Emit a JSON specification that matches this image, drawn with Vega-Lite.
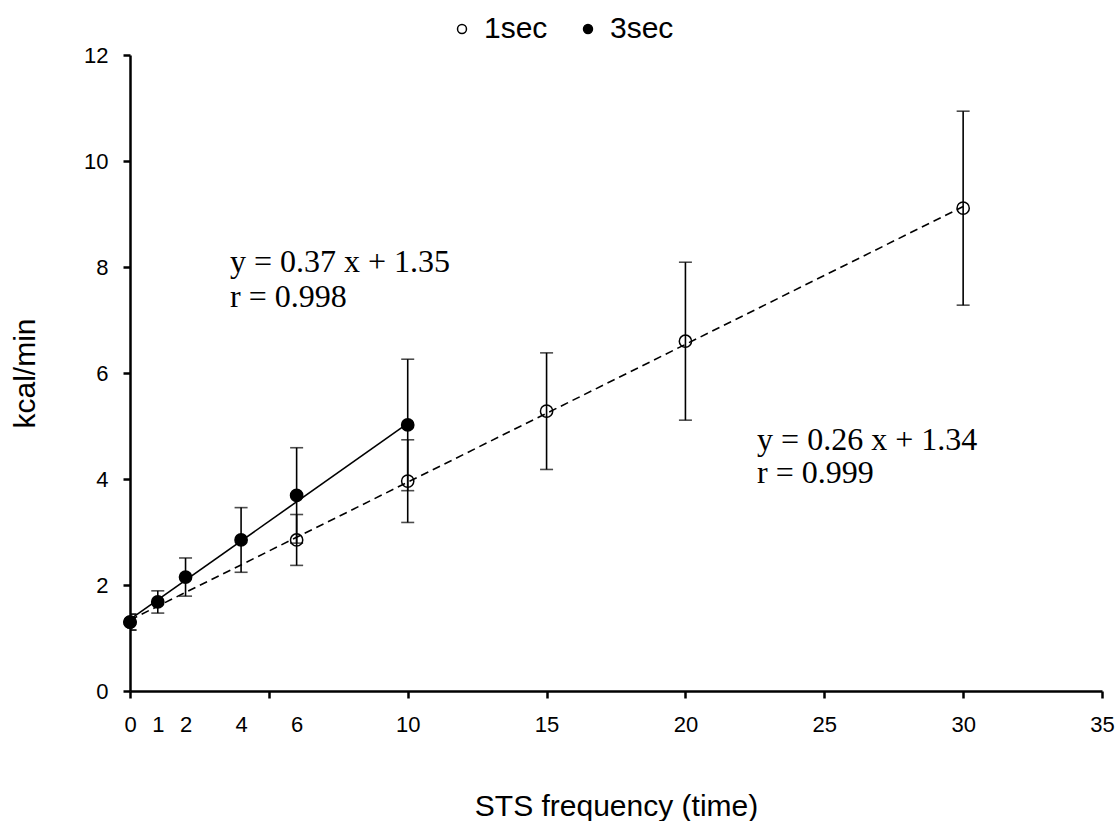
{
  "$schema": "https://vega.github.io/schema/vega-lite/v6.json",
  "width": 972,
  "height": 636,
  "autosize": {"type": "none"},
  "padding": {"left": 130, "top": 55, "right": 14, "bottom": 130},
  "background": "white",
  "config": {
    "view": {"stroke": null},
    "font": "Liberation Sans"
  },
  "datasets": {
    "pts": [
      {"series": "1sec", "x": 0, "y": 1.30, "lo": 1.15, "hi": 1.45},
      {"series": "1sec", "x": 6, "y": 2.85, "lo": 2.37, "hi": 3.33},
      {"series": "1sec", "x": 10, "y": 3.96, "lo": 3.18, "hi": 4.74},
      {"series": "1sec", "x": 15, "y": 5.28, "lo": 4.18, "hi": 6.38},
      {"series": "1sec", "x": 20, "y": 6.60, "lo": 5.11, "hi": 8.09},
      {"series": "1sec", "x": 30, "y": 9.11, "lo": 7.28, "hi": 10.94},
      {"series": "3sec", "x": 0, "y": 1.30, "lo": 1.15, "hi": 1.45},
      {"series": "3sec", "x": 1, "y": 1.68, "lo": 1.47, "hi": 1.89},
      {"series": "3sec", "x": 2, "y": 2.15, "lo": 1.79, "hi": 2.51},
      {"series": "3sec", "x": 4, "y": 2.85, "lo": 2.24, "hi": 3.46},
      {"series": "3sec", "x": 6, "y": 3.69, "lo": 2.79, "hi": 4.59},
      {"series": "3sec", "x": 10, "y": 5.02, "lo": 3.78, "hi": 6.26}
    ],
    "fit1": [
      {"series": "1sec", "x": 0, "y": 1.34},
      {"series": "1sec", "x": 30, "y": 9.14}
    ],
    "fit3": [
      {"series": "3sec", "x": 0, "y": 1.35},
      {"series": "3sec", "x": 10, "y": 5.05}
    ],
    "notes": [
      {"x": 3.6, "y": 8.09, "text": "y = 0.37 x + 1.35"},
      {"x": 3.6, "y": 7.43, "text": "r = 0.998"},
      {"x": 22.58, "y": 4.74, "text": "y = 0.26 x + 1.34"},
      {"x": 22.58, "y": 4.11, "text": "r = 0.999"}
    ]
  },
  "layer": [
    {
      "data": {"name": "pts"},
      "mark": {"type": "rule", "color": "black", "strokeWidth": 1.6, "clip": true},
      "encoding": {
        "x": {
          "field": "x", "type": "quantitative", "title": "STS frequency (time)",
          "scale": {"domain": [0, 35], "nice": false, "zero": false},
          "axis": {
            "values": [0, 1, 2, 4, 5, 6, 10, 15, 20, 25, 30, 35],
            "labelExpr": "datum.value == 5 ? '' : datum.label",
            "labelOverlap": false,
            "labelFlush": false,
            "labelPadding": 16,
            "labelFontSize": 22,
            "labelFont": "Liberation Sans",
            "labelColor": "black",
            "grid": false,
            "domainColor": "black",
            "domainWidth": 2.5,
            "tickColor": "black",
            "tickWidth": 2.5,
            "tickSize": 7,
            "titleFont": "Liberation Sans",
            "titleFontSize": 30,
            "titleFontWeight": "normal",
            "titleColor": "black",
            "titlePadding": 56,
            "tickOpacity": {"condition": {"test": "datum.value == 1 || datum.value == 2 || datum.value == 4 || datum.value == 6", "value": 0}, "value": 1}
          }
        },
        "y": {
          "field": "lo", "type": "quantitative", "title": "kcal/min",
          "scale": {"domain": [0, 12], "nice": false, "zero": true},
          "axis": {
            "values": [0, 2, 4, 6, 8, 10, 12],
            "labelPadding": 15,
            "labelFontSize": 22,
            "labelFont": "Liberation Sans",
            "labelColor": "black",
            "grid": false,
            "domainColor": "black",
            "domainWidth": 2.5,
            "tickColor": "black",
            "tickWidth": 2.5,
            "tickSize": 7,
            "titleFont": "Liberation Sans",
            "titleFontSize": 30,
            "titleFontWeight": "normal",
            "titleColor": "black",
            "titlePadding": 43
          }
        },
        "y2": {"field": "hi"}
      }
    },
    {
      "data": {"name": "pts"},
      "mark": {"type": "tick", "orient": "horizontal", "color": "black", "size": 13, "thickness": 1.6, "clip": true},
      "encoding": {
        "x": {"field": "x", "type": "quantitative", "title": "STS frequency (time)"},
        "y": {"field": "lo", "type": "quantitative", "title": "kcal/min"}
      }
    },
    {
      "data": {"name": "pts"},
      "mark": {"type": "tick", "orient": "horizontal", "color": "black", "size": 13, "thickness": 1.6, "clip": true},
      "encoding": {
        "x": {"field": "x", "type": "quantitative", "title": "STS frequency (time)"},
        "y": {"field": "hi", "type": "quantitative", "title": "kcal/min"}
      }
    },
    {
      "data": {"name": "fit1"},
      "mark": {"type": "line", "color": "black", "strokeWidth": 1.6, "strokeDash": [8, 5]},
      "encoding": {
        "x": {"field": "x", "type": "quantitative", "title": "STS frequency (time)"},
        "y": {"field": "y", "type": "quantitative", "title": "kcal/min"}
      }
    },
    {
      "data": {"name": "fit3"},
      "mark": {"type": "line", "color": "black", "strokeWidth": 1.6},
      "encoding": {
        "x": {"field": "x", "type": "quantitative", "title": "STS frequency (time)"},
        "y": {"field": "y", "type": "quantitative", "title": "kcal/min"}
      }
    },
    {
      "data": {"name": "pts"},
      "mark": {"type": "point", "shape": "circle", "filled": true, "stroke": "black", "strokeWidth": 1.5, "size": 150, "opacity": 1},
      "encoding": {
        "x": {"field": "x", "type": "quantitative", "title": "STS frequency (time)"},
        "y": {"field": "y", "type": "quantitative", "title": "kcal/min"},
        "fill": {
          "field": "series", "type": "nominal",
          "scale": {"domain": ["1sec", "3sec"], "range": ["transparent", "black"]},
          "legend": {
            "orient": "none",
            "legendX": 317,
            "legendY": -41,
            "direction": "horizontal",
            "title": null,
            "labelFontSize": 30,
            "labelFont": "Liberation Sans",
            "labelColor": "black",
            "symbolType": "circle",
            "symbolSize": 80,
            "symbolStrokeColor": "black",
            "symbolStrokeWidth": 1.5,
            "labelOffset": 7,
            "columnPadding": 25
          }
        }
      }
    },
    {
      "data": {"name": "notes"},
      "mark": {"type": "text", "font": "Liberation Serif", "fontSize": 32, "align": "left", "baseline": "middle", "color": "black"},
      "encoding": {
        "x": {"field": "x", "type": "quantitative", "title": "STS frequency (time)"},
        "y": {"field": "y", "type": "quantitative", "title": "kcal/min"},
        "text": {"field": "text"}
      }
    }
  ]
}
